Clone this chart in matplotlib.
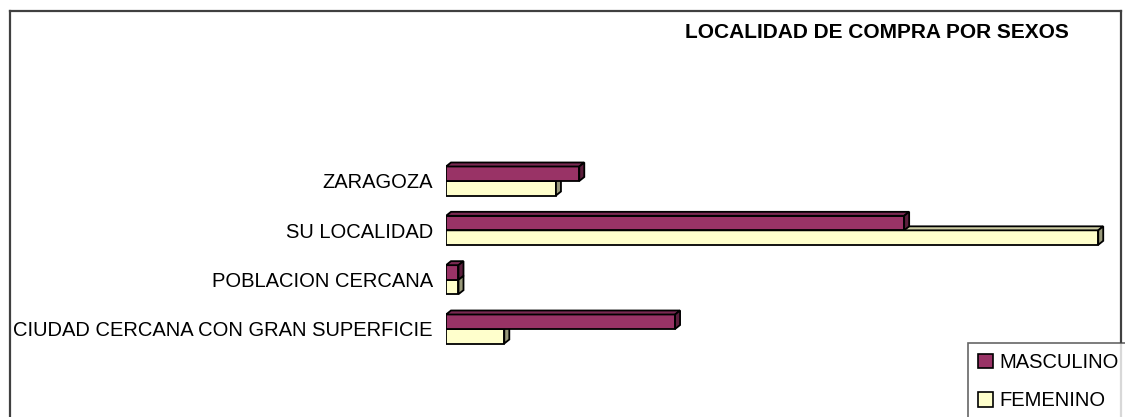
import matplotlib.pyplot as plt
import numpy as np
from matplotlib.patches import Polygon, Patch
from matplotlib.lines import Line2D

plt.rcParams['font.family'] = ['Liberation Sans', 'DejaVu Sans']

categorias = ['ZARAGOZA', 'SU LOCALIDAD', 'POBLACION CERCANA',
              'CIUDAD CERCANA CON GRAN SUPERFICIE']
masculino = [16.0, 55.0, 1.5, 27.5]
femenino = [13.2, 78.3, 1.5, 7.0]

W, H = 1125, 417
fig = plt.figure(figsize=(W / 100, H / 100), dpi=100)

# plot area in pixels: x=0 at 446 px, 8.33 px per unit
xmax = 80
left_px, width_px = 446, xmax * 8.33
top_px, bot_px = 136.6, 373.4
ax = fig.add_axes([left_px / W, 1 - bot_px / H, width_px / W, (bot_px - top_px) / H])
ax.set_xlim(0, xmax)
ax.set_ylim(-0.9, 3.9)

y = np.arange(len(categorias))[::-1]
h = 0.294

def px_to_data(dxp, dyp):
    inv = ax.transData.inverted()
    p0 = inv.transform((0, 0))
    p1 = inv.transform((dxp, dyp))
    return p1 - p0

ddx, ddy = px_to_data(5, 4)

def bar3d(x, y0, hh, front, top, side, z):
    ax.add_patch(Polygon([(0, y0), (x, y0), (x, y0 + hh), (0, y0 + hh)],
                         closed=True, facecolor=front, edgecolor='black', lw=1.3, zorder=z))
    ax.add_patch(Polygon([(0, y0 + hh), (x, y0 + hh), (x + ddx, y0 + hh + ddy), (ddx, y0 + hh + ddy)],
                         closed=True, facecolor=top, edgecolor='black', lw=1.3, zorder=z))
    ax.add_patch(Polygon([(x, y0), (x + ddx, y0 + ddy), (x + ddx, y0 + hh + ddy), (x, y0 + hh)],
                         closed=True, facecolor=side, edgecolor='black', lw=1.3, zorder=z))

for i in range(len(categorias)):
    bar3d(femenino[i], y[i] - h, h, '#ffffcc', '#cccca3', '#99997a', 2)
    bar3d(masculino[i], y[i], h, '#993366', '#7a2952', '#5c1f3d', 3)

ax.set_yticks(y)
ax.set_yticklabels(categorias, fontsize=14.5)
ax.tick_params(axis='y', length=0, pad=9.5)
ax.set_xticks([])
for s in ax.spines.values():
    s.set_visible(False)

fig.text(877 / W, 1 - 32 / H, 'LOCALIDAD DE COMPRA POR SEXOS', ha='center', va='center',
         fontsize=15, fontweight='bold')

# outer frame, open at the bottom
frame = dict(color='#404040', lw=1.6, transform=fig.transFigure)
fig.add_artist(Line2D([10 / W, 10 / W], [0, 1 - 11 / H], **frame))
fig.add_artist(Line2D([10 / W, 1121 / W], [1 - 11 / H, 1 - 11 / H], **frame))
fig.add_artist(Line2D([1121 / W, 1121 / W], [0, 1 - 11 / H], **frame))

handles = [Patch(facecolor='#993366', edgecolor='black', lw=1.2),
           Patch(facecolor='#ffffcc', edgecolor='black', lw=1.2)]
leg = fig.legend(handles, ['MASCULINO', 'FEMENINO'], loc='upper left',
                 bbox_to_anchor=(968 / W, 1 - 343 / H), fontsize=14.5,
                 frameon=True, fancybox=False, handlelength=0.75, handleheight=0.75,
                 handletextpad=0.3, labelspacing=0.95, borderaxespad=0, borderpad=0.5)
leg.get_frame().set_edgecolor('#404040')
leg.get_frame().set_linewidth(1.2)

fig.savefig('out.png', dpi=100)
